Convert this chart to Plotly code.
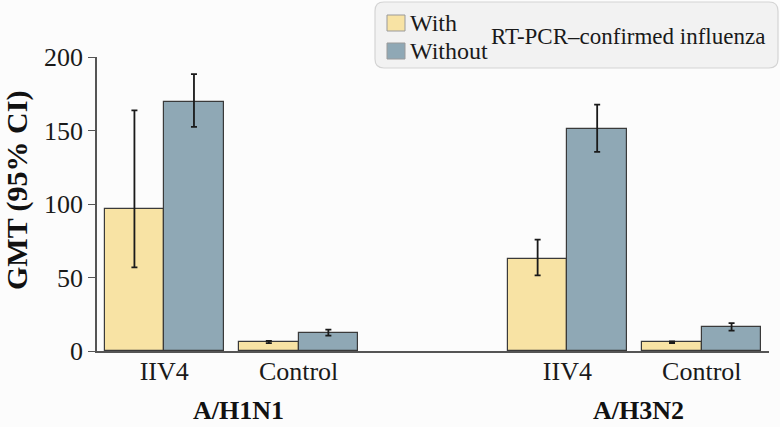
import plotly.graph_objects as go

# ---- data ----
positions = [0, 1, 3, 4]
categories = ["IIV4", "Control", "IIV4", "Control"]
group_labels = ["A/H1N1", "A/H3N2"]
group_centers = [0.55, 3.53]
series_names = ["With", "Without"]
legend_title = "RT-PCR\u2013confirmed influenza"
y_title = "GMT (95% CI)"
with_gmt = [96.5, 6.1, 62.3, 5.9]
with_lo = [56.9, 5.4, 51.4, 5.3]
with_hi = [163.7, 6.9, 75.7, 6.5]
without_gmt = [169.4, 12.5, 150.8, 16.2]
without_lo = [152.4, 10.5, 135.5, 13.9]
without_hi = [188.3, 14.6, 167.6, 18.9]
y_ticks = [0, 50, 100, 150, 200]

FONT = "Liberation Serif"
W, H = 780, 427
L, R, T, B = 97, 11, 57, 76
PW, PH = W - L - R, H - T - B


def px_x(p):
    return (p - L) / PW


def px_y(p):
    return (H - B - p) / PH


BAR_W = 0.443
colors = ["#F8E3A4", "#8FA8B5"]
series = [
    (with_gmt, with_lo, with_hi, -BAR_W),
    (without_gmt, without_lo, without_hi, 0.0),
]

fig = go.Figure()
for name, color, (vals, lo, hi, off) in zip(series_names, colors, series):
    fig.add_trace(go.Bar(
        name=name,
        x=positions,
        y=vals,
        width=BAR_W,
        offset=off,
        showlegend=False,
        marker=dict(color=color, line=dict(color="#3a3a3a", width=1.2)),
        error_y=dict(
            type="data",
            symmetric=False,
            array=[h - v for h, v in zip(hi, vals)],
            arrayminus=[v - l for v, l in zip(vals, lo)],
            color="#1a1a1a",
            thickness=1.8,
            width=3,
        ),
    ))

# rounded legend box
x0, x1 = px_x(375), px_x(778)
y0, y1 = px_y(68), px_y(2)
rx, ry = 9 / PW, 9 / PH
path = (f"M {x0+rx},{y1} L {x1-rx},{y1} Q {x1},{y1} {x1},{y1-ry} "
        f"L {x1},{y0+ry} Q {x1},{y0} {x1-rx},{y0} L {x0+rx},{y0} "
        f"Q {x0},{y0} {x0},{y0+ry} L {x0},{y1-ry} Q {x0},{y1} {x0+rx},{y1} Z")
fig.add_shape(type="path", path=path, xref="paper", yref="paper",
              fillcolor="#F2F2F2", line=dict(color="#D4D4D4", width=1.2),
              layer="above")

# legend entries (swatch + label)
entry_y = [23, 51]
for name, color, cy in zip(series_names, colors, entry_y):
    fig.add_shape(type="rect", xref="paper", yref="paper",
                  x0=px_x(387), x1=px_x(405), y0=px_y(cy + 8), y1=px_y(cy - 8),
                  fillcolor=color, line=dict(color="#9a9a9a", width=1), layer="above")
    fig.add_annotation(text=name, xref="paper", yref="paper",
                       x=px_x(408), y=px_y(cy), xanchor="left", yanchor="middle",
                       showarrow=False, font=dict(family=FONT, size=24, color="#1a1a1a"))

fig.add_annotation(text=legend_title, xref="paper", yref="paper",
                   x=px_x(489), y=px_y(37), xanchor="left", yanchor="middle",
                   showarrow=False, font=dict(family=FONT, size=23, color="#1a1a1a"))

for lab, cx in zip(group_labels, group_centers):
    fig.add_annotation(text=f"<b>{lab}</b>", xref="x", yref="paper",
                       x=cx, y=px_y(410), xanchor="center", yanchor="middle",
                       showarrow=False, font=dict(family=FONT, size=26, color="#111"))

fig.add_annotation(text=f"<b>{y_title}</b>", xref="paper", yref="paper",
                   x=px_x(17), y=px_y(191), xanchor="center", yanchor="middle",
                   textangle=-90, showarrow=False,
                   font=dict(family=FONT, size=30, color="#111"))

fig.update_layout(
    width=W, height=H,
    margin=dict(l=L, r=R, t=T, b=B, pad=0, autoexpand=False),
    paper_bgcolor="#FCFCFC",
    plot_bgcolor="#FCFCFC",
    font=dict(family=FONT, size=26, color="#1a1a1a"),
    showlegend=False,
    bargap=0,
    xaxis=dict(
        range=[-0.5, 4.5],
        tickmode="array", tickvals=positions, ticktext=categories,
        showline=True, linecolor="#555", linewidth=1.5,
        ticks="", showgrid=False, zeroline=False,
        tickfont=dict(family=FONT, size=26, color="#1a1a1a"),
        ticklabelstandoff=-4,
        fixedrange=True,
    ),
    yaxis=dict(
        range=[0, 200],
        tickmode="array", tickvals=y_ticks,
        showline=True, linecolor="#555", linewidth=1.5,
        ticks="outside", ticklen=7, tickcolor="#555", tickwidth=1.2,
        showgrid=False, zeroline=False,
        tickfont=dict(family=FONT, size=26, color="#1a1a1a"),
        fixedrange=True,
    ),
)

fig.write_html("out.html",
               config={"displayModeBar": False},
               post_script="document.body.style.margin='0';document.body.style.padding='0';"
                           "document.body.style.background='#FCFCFC';")
